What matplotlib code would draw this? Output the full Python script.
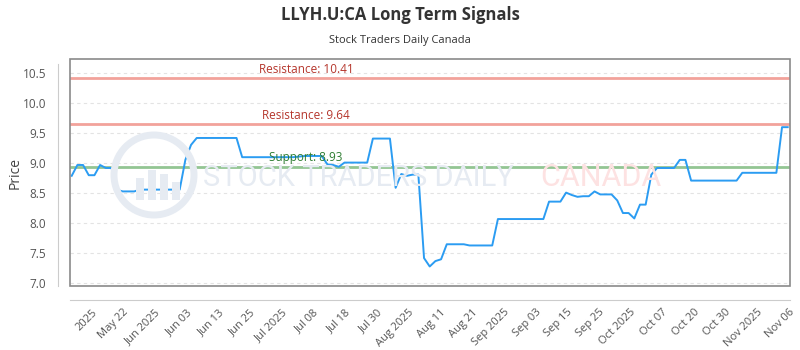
import numpy as np
import matplotlib
matplotlib.use("Agg")
import matplotlib.pyplot as plt
from matplotlib.patches import Rectangle, Ellipse
import matplotlib.transforms as mtransforms

plt.rcParams['font.family'] = ['Open Sans', 'DejaVu Sans']

title = "LLYH.U:CA Long Term Signals"
subtitle = "Stock Traders Daily Canada"

prices = [8.78, 8.96, 8.96, 8.79, 8.79, 8.96, 8.91, 8.91, 8.545, 8.52,
          8.52, 8.52, 8.55, 8.55, 8.55, 8.55, 8.55, 8.55, 8.55, 8.55,
          9.045, 9.295, 9.41, 9.41, 9.41, 9.41, 9.41, 9.41, 9.41, 9.41,
          9.09, 9.09, 9.09, 9.09, 9.09, 9.09, 9.09, 9.09, 9.09, 9.09,
          9.10, 9.11, 9.11, 9.11, 9.11, 8.97, 8.96, 8.93, 9.0, 9.0,
          9.0, 9.0, 9.0, 9.40, 9.40, 9.40, 9.40, 8.58, 8.81, 8.78,
          8.80, 8.80, 7.41, 7.27, 7.36, 7.39, 7.64, 7.64, 7.64, 7.64,
          7.62, 7.62, 7.62, 7.62, 7.62, 8.06, 8.06, 8.06, 8.06, 8.06,
          8.06, 8.06, 8.06, 8.06, 8.35, 8.35, 8.35, 8.50, 8.46, 8.43,
          8.44, 8.44, 8.52, 8.47, 8.47, 8.47, 8.37, 8.16, 8.16, 8.07,
          8.30, 8.30, 8.80, 8.91, 8.91, 8.91, 8.91, 9.045, 9.045, 8.70,
          8.70, 8.70, 8.70, 8.70, 8.70, 8.70, 8.70, 8.70, 8.83, 8.83,
          8.83, 8.83, 8.83, 8.83, 8.83, 9.59, 9.59]

tick_labels = ["2025", "May 22", "Jun 2025", "Jun 03", "Jun 13", "Jun 25",
               "Jul 2025", "Jul 08", "Jul 18", "Jul 30", "Aug 2025", "Aug 11",
               "Aug 21", "Sep 2025", "Sep 03", "Sep 15", "Sep 25", "Oct 2025",
               "Oct 07", "Oct 20", "Oct 30", "Nov 2025", "Nov 06"]

resistance_levels = [10.41, 9.64]
support_levels = [8.93]

fig = plt.figure(figsize=(8, 3.5), dpi=100)
ax = fig.add_axes([70/800, 1-286/350, 720/800, (286-59.3)/350])

# spines first (set_position resets ticks)
for sp in ['top', 'right']:
    ax.spines[sp].set_visible(False)
ax.spines['left'].set_position(('outward', 9))
ax.spines['bottom'].set_position(('outward', 10))
ax.spines['left'].set_color('#cccccc')
ax.spines['bottom'].set_color('#cccccc')

x = np.arange(len(prices))
ax.plot(x, prices, color='#2b9cf2', lw=1.4, zorder=5)

ax.set_xlim(-0.3, 126.4)
ax.set_ylim(6.945, 10.72)
ax.spines['left'].set_bounds(6.945, 10.65)

# grid
yt = [7.0, 7.5, 8.0, 8.5, 9.0, 9.5, 10.0, 10.5]
for v in yt:
    ax.axhline(v, color='#e3e3e3', lw=0.8, ls=(0, (3, 3)), zorder=1)

# levels
trans = mtransforms.blended_transform_factory(ax.transAxes, ax.transData)
for r in resistance_levels:
    ax.axhline(r, color='#f2a29b', lw=2, zorder=3)
    ax.text(0.328, r + 0.04, f"Resistance: {r:.2f}", transform=trans,
            ha='center', va='bottom', fontsize=8.5, color='#b5362c', zorder=6)
for s in support_levels:
    ax.axhline(s, color='#93c593', lw=2, zorder=3)
    ax.text(0.328, s + 0.04, f"Support: {s:.2f}", transform=trans,
            ha='center', va='bottom', fontsize=8.5, color='#2e7d32', zorder=6)

# watermark
wm_col = '#e6ebf2'
circ = Ellipse((154/800, 1-175/350), 80/800, 80/350, transform=fig.transFigure,
               fill=False, ec=wm_col, lw=5, zorder=0)
fig.patches.append(circ)
for bx, bh in [(136, 22), (148, 30), (160, 26), (172, 18)]:
    fig.patches.append(Rectangle((bx/800, 1-200/350), 8/800, bh/350,
                                 transform=fig.transFigure, fc=wm_col,
                                 ec='none', zorder=0))
fig.text(203/800, 1-178/350, "STOCK TRADERS DAILY", ha='left', va='center',
         fontsize=21, color=wm_col,
         family=['Liberation Sans Narrow', 'Roboto', 'DejaVu Sans'], zorder=0)
fig.text(540/800, 1-178/350, "CANADA", ha='left', va='center',
         fontsize=22, color='#fde2e2',
         family=['Liberation Sans Narrow', 'Roboto', 'DejaVu Sans'], zorder=0)

# ticks
ax.tick_params(axis='both', length=0)
ax.tick_params(axis='y', pad=8)
ax.tick_params(axis='x', pad=5)
ax.set_yticks(yt, [f"{v:.1f}" for v in yt], fontsize=8.5, color='#555555')
ax.set_xticks(np.linspace(3.5, 126.2, len(tick_labels)), tick_labels,
              rotation=45, ha='right', va='top', rotation_mode='anchor',
              fontsize=8, color='#555555')

frame = Rectangle((0, 0), 1, 1, transform=ax.transAxes, fill=False,
                  ec='#8a8a8a', lw=1.2, zorder=10, clip_on=False)
ax.add_patch(frame)

ax.set_ylabel("Price", fontsize=10, color='#444444')
ax.yaxis.set_label_coords(-0.066, 0.5)

fig.text(0.5, 1-15/350, title, ha='center', va='center', fontsize=12,
         fontweight='bold', color='#333333')
fig.text(0.5, 1-41/350, subtitle, ha='center', va='center', fontsize=8,
         color='#333333')

fig.savefig("out.png", dpi=100)
